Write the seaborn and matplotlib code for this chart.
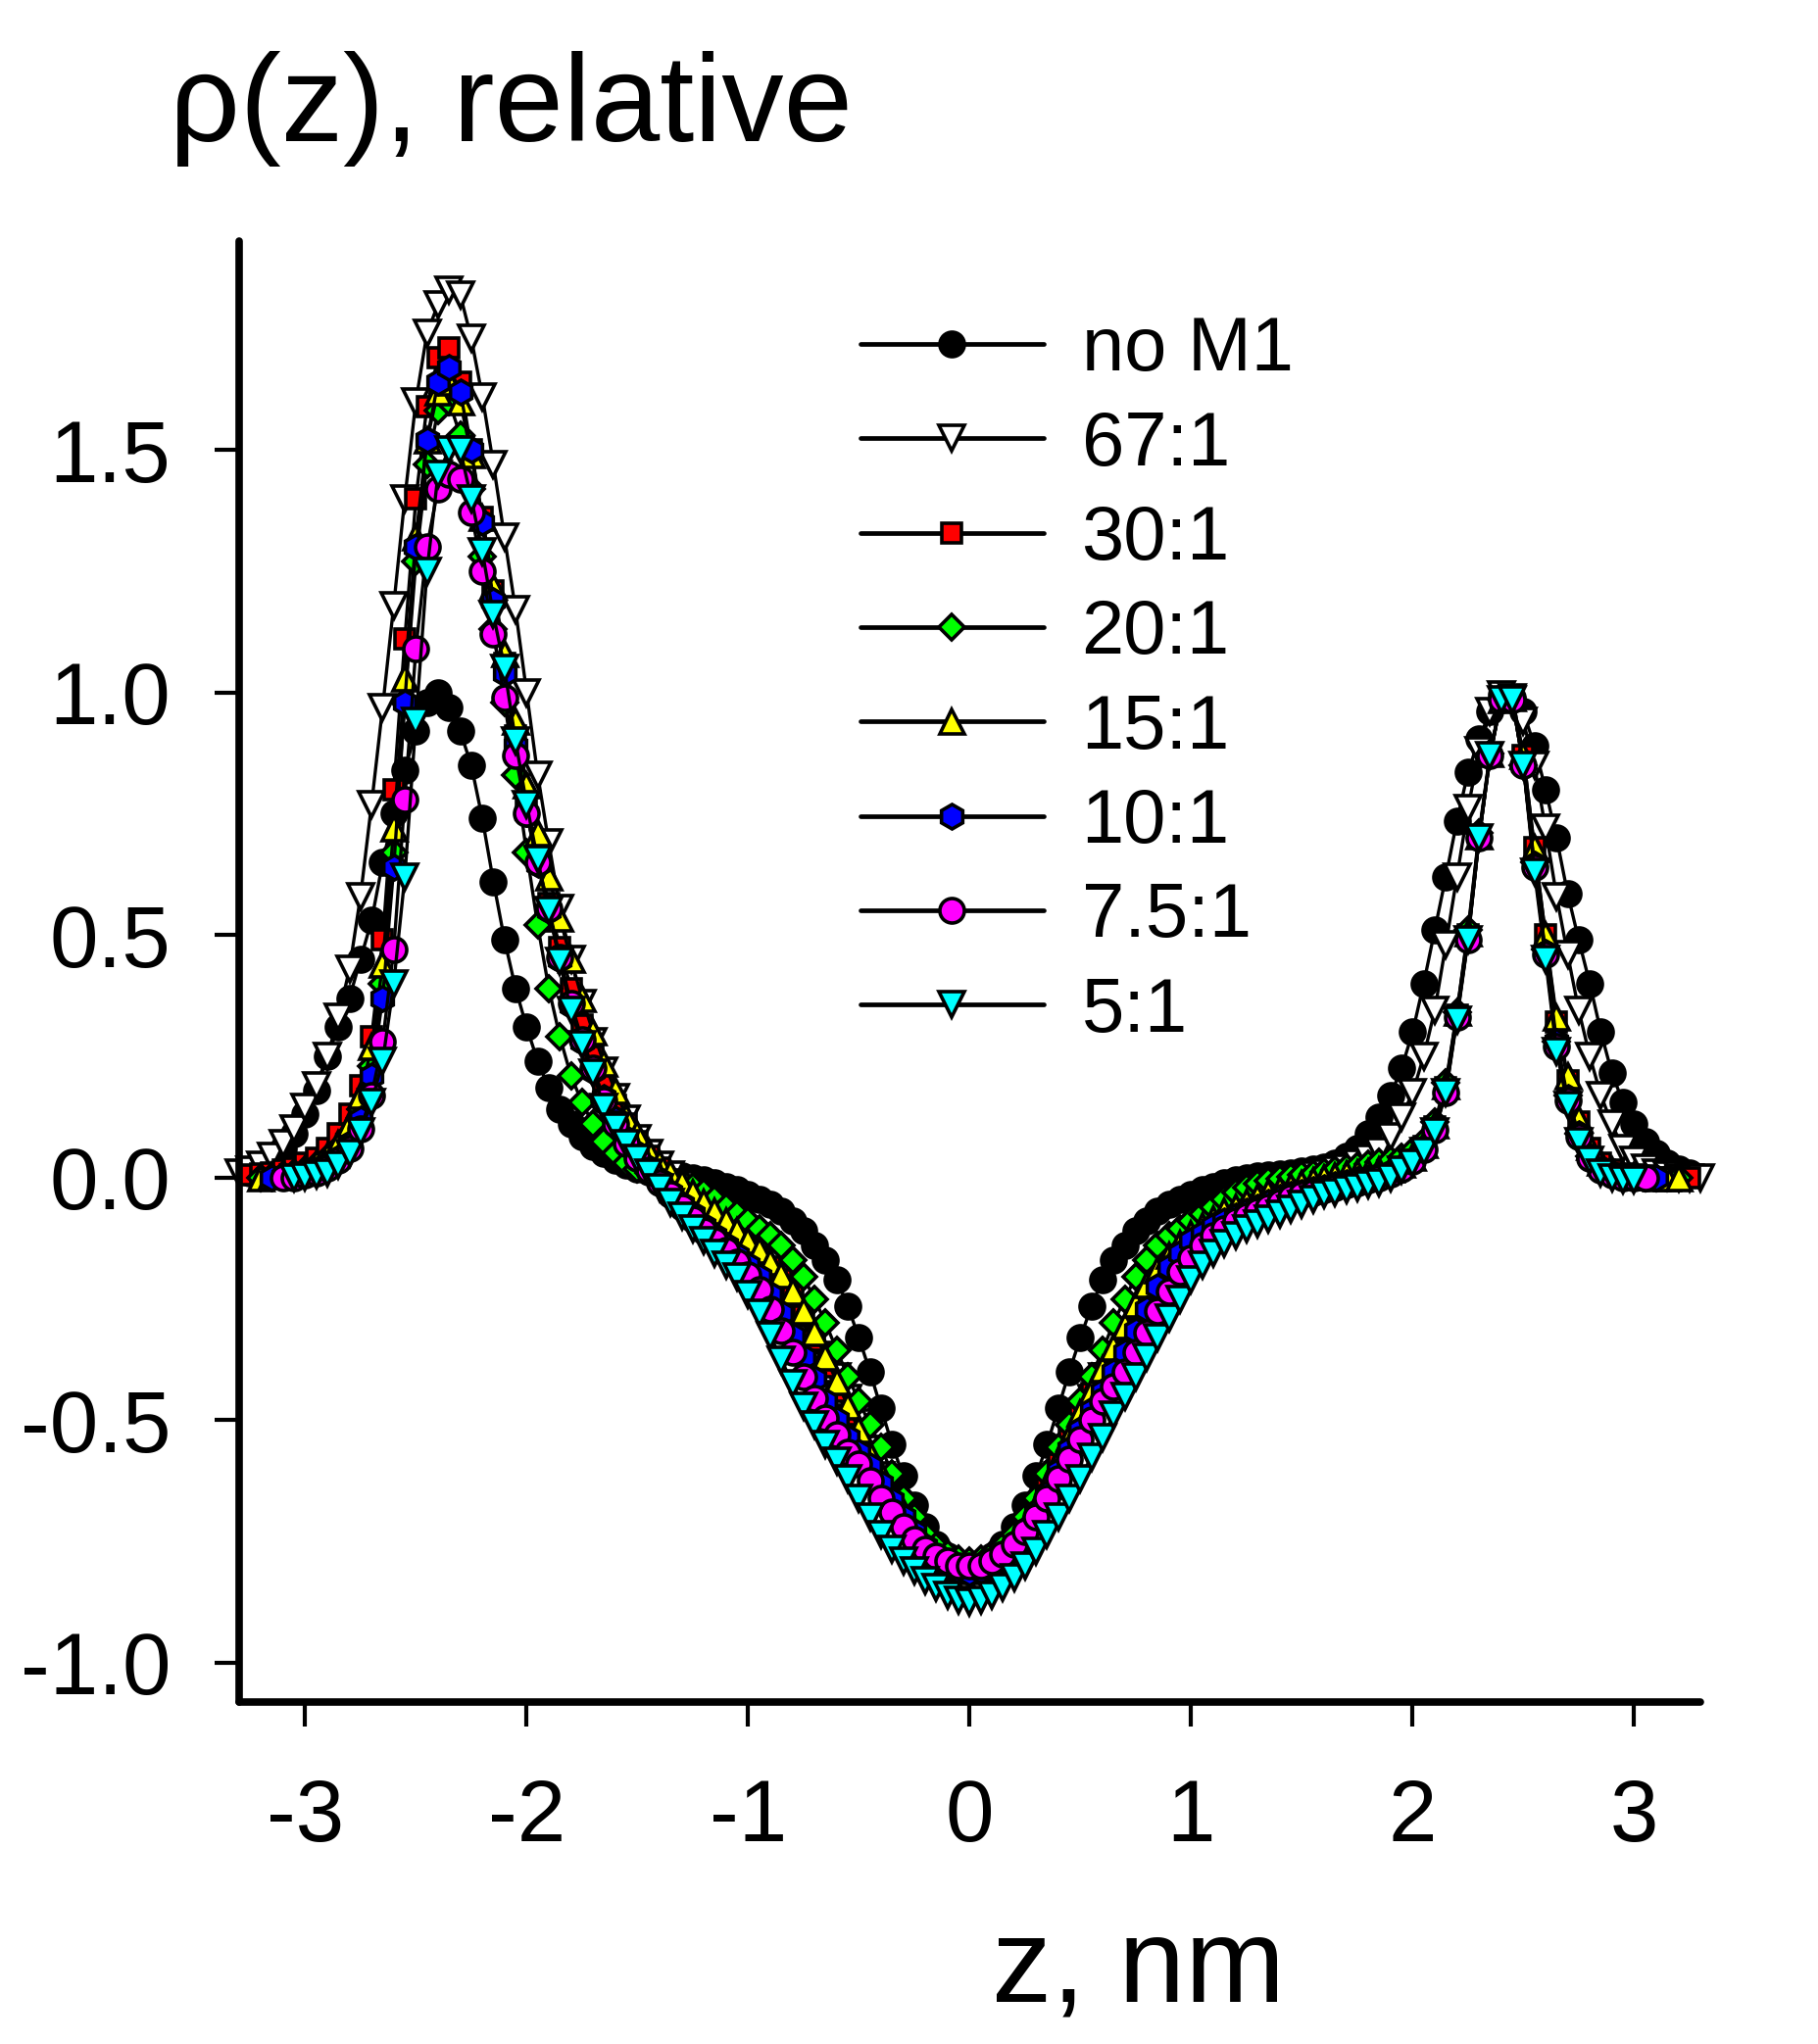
import numpy as np
import pandas as pd
import seaborn as sns
import matplotlib
matplotlib.use("Agg")
import matplotlib.pyplot as plt

# z grid, nm (step 0.05)
Z = np.round(np.linspace(-3.30, 3.30, 133), 2)

# relative density profiles (None = no data at that z)
no_m1 = [
    None, 0.01, 0.02, 0.04, 0.06, 0.09, 0.13, 0.18, 0.25, 0.31,
    0.37, 0.45, 0.53, 0.65, 0.75, 0.84, 0.92, 0.98, 1.00, 0.97,
    0.92, 0.85, 0.74, 0.61, 0.49, 0.39, 0.31, 0.24, 0.185, 0.14,
    0.11, 0.085, 0.065, 0.05, 0.035, 0.025, 0.018, 0.012, 0.008, 0.005,
    0.003, 0.0, -0.005, -0.01, -0.018, -0.025, -0.035, -0.045, -0.055, -0.07,
    -0.09, -0.11, -0.14, -0.17, -0.21, -0.265, -0.33, -0.40, -0.475, -0.55,
    -0.615, -0.675, -0.72, -0.755, -0.78, -0.795, -0.80, -0.795, -0.78, -0.755,
    -0.72, -0.675, -0.615, -0.55, -0.475, -0.40, -0.33, -0.265, -0.21, -0.17,
    -0.14, -0.11, -0.09, -0.07, -0.055, -0.045, -0.035, -0.025, -0.018, -0.01,
    -0.005, 0.0, 0.003, 0.005, 0.008, 0.01, 0.013, 0.017, 0.022, 0.03,
    0.045, 0.06, 0.09, 0.125, 0.17, 0.225, 0.30, 0.40, 0.51, 0.62,
    0.735, 0.835, 0.905, 0.96, 0.995, 0.99, 0.96, 0.89, 0.80, 0.70,
    0.585, 0.49, 0.40, 0.30, 0.215, 0.155, 0.11, 0.075, 0.05, 0.03,
    0.018, 0.01, None]

ratio_67 = [
    0.01, 0.015, 0.025, 0.045, 0.07, 0.10, 0.145, 0.19, 0.25, 0.33,
    0.43, 0.58, 0.77, 0.97, 1.18, 1.40, 1.60, 1.74, 1.80, 1.83,
    1.82, 1.73, 1.61, 1.47, 1.32, 1.17, 1.00, 0.83, 0.69, 0.555,
    0.45, 0.36, 0.28, 0.22, 0.165, 0.12, 0.08, 0.05, 0.025, 0.005,
    -0.015, -0.035, -0.055, -0.07, -0.085, -0.10, -0.12, -0.145, -0.17, -0.20,
    -0.235, -0.275, -0.32, -0.365, -0.41, -0.455, -0.505, -0.56, -0.615, -0.665,
    -0.715, -0.755, -0.79, -0.815, -0.835, -0.845, -0.85, -0.845, -0.835, -0.815,
    -0.79, -0.755, -0.715, -0.665, -0.615, -0.56, -0.505, -0.455, -0.41, -0.365,
    -0.32, -0.275, -0.235, -0.20, -0.17, -0.145, -0.12, -0.10, -0.085, -0.07,
    -0.055, -0.04, -0.03, -0.02, -0.01, -0.005, 0.0, 0.005, 0.01, 0.015,
    0.02, 0.03, 0.04, 0.055, 0.085, 0.125, 0.175, 0.25, 0.345, 0.48,
    0.62, 0.76, 0.88, 0.96, 0.995, 0.99, 0.94, 0.85, 0.72, 0.58,
    0.46, 0.345, 0.25, 0.17, 0.11, 0.06, 0.035, 0.02, 0.01, 0.005,
    0.0, 0.0, 0.0]

ratio_30 = [
    None, 0.005, 0.008, 0.01, 0.015, 0.02, 0.03, 0.04, 0.06, 0.09,
    0.13, 0.19, 0.29, 0.49, 0.80, 1.11, 1.40, 1.59, 1.69, 1.71,
    1.64, 1.50, 1.36, 1.21, 1.06, 0.91, 0.77, 0.66, 0.565, 0.475,
    0.39, 0.315, 0.25, 0.195, 0.15, 0.11, 0.075, 0.045, 0.02, -0.005,
    -0.03, -0.05, -0.07, -0.09, -0.105, -0.125, -0.145, -0.165, -0.185, -0.21,
    -0.245, -0.285, -0.335, -0.39, -0.44, -0.49, -0.535, -0.585, -0.625, -0.665,
    -0.70, -0.735, -0.765, -0.785, -0.80, -0.81, -0.815, -0.81, -0.80, -0.78,
    -0.755, -0.725, -0.685, -0.64, -0.59, -0.54, -0.49, -0.445, -0.405, -0.36,
    -0.315, -0.265, -0.225, -0.195, -0.165, -0.14, -0.12, -0.105, -0.09, -0.075,
    -0.065, -0.055, -0.045, -0.035, -0.03, -0.02, -0.015, -0.01, -0.005, 0.0,
    0.005, 0.008, 0.01, 0.012, 0.015, 0.025, 0.04, 0.065, 0.105, 0.185,
    0.335, 0.50, 0.70, 0.87, 0.985, 0.99, 0.87, 0.68, 0.50, 0.32,
    0.20, 0.115, 0.06, 0.03, 0.015, 0.008, 0.005, 0.003, 0.0, 0.0,
    0.0, 0.0, None]

ratio_20 = [
    None, None, 0.0, 0.002, 0.005, 0.01, 0.015, 0.025, 0.04, 0.06,
    0.09, 0.14, 0.23, 0.40, 0.67, 0.98, 1.27, 1.47, 1.58, 1.60,
    1.53, 1.42, 1.28, 1.13, 0.98, 0.83, 0.67, 0.52, 0.39, 0.29,
    0.21, 0.155, 0.11, 0.075, 0.05, 0.03, 0.018, 0.01, 0.005, 0.0,
    -0.008, -0.018, -0.03, -0.045, -0.06, -0.075, -0.09, -0.105, -0.12, -0.14,
    -0.17, -0.205, -0.25, -0.30, -0.355, -0.41, -0.46, -0.51, -0.555, -0.61,
    -0.66, -0.70, -0.735, -0.76, -0.775, -0.785, -0.79, -0.785, -0.775, -0.76,
    -0.735, -0.70, -0.66, -0.61, -0.555, -0.51, -0.46, -0.41, -0.355, -0.30,
    -0.25, -0.205, -0.17, -0.14, -0.12, -0.105, -0.09, -0.075, -0.06, -0.045,
    -0.03, -0.02, -0.012, -0.006, -0.002, 0.002, 0.005, 0.008, 0.012, 0.016,
    0.02, 0.024, 0.028, 0.032, 0.036, 0.042, 0.055, 0.075, 0.115, 0.195,
    0.34, 0.51, 0.71, 0.875, 0.985, 0.985, 0.85, 0.65, 0.47, 0.28,
    0.17, 0.09, 0.045, 0.02, 0.008, 0.003, 0.0, 0.0, 0.0, 0.0,
    0.0, None, None]

ratio_15 = [
    None, None, 0.0, 0.003, 0.006, 0.01, 0.018, 0.03, 0.045, 0.07,
    0.11, 0.17, 0.27, 0.44, 0.72, 1.03, 1.32, 1.52, 1.62, 1.64,
    1.60, 1.49, 1.36, 1.22, 1.08, 0.94, 0.81, 0.71, 0.62, 0.535,
    0.45, 0.37, 0.30, 0.235, 0.18, 0.125, 0.09, 0.055, 0.03, 0.01,
    -0.01, -0.03, -0.05, -0.07, -0.09, -0.11, -0.13, -0.15, -0.175, -0.20,
    -0.235, -0.275, -0.32, -0.37, -0.42, -0.47, -0.52, -0.57, -0.61, -0.65,
    -0.69, -0.725, -0.755, -0.78, -0.795, -0.805, -0.81, -0.805, -0.795, -0.775,
    -0.75, -0.72, -0.68, -0.635, -0.585, -0.535, -0.485, -0.44, -0.395, -0.35,
    -0.305, -0.26, -0.22, -0.19, -0.16, -0.135, -0.115, -0.10, -0.085, -0.07,
    -0.06, -0.05, -0.04, -0.03, -0.025, -0.018, -0.012, -0.006, 0.0, 0.004,
    0.008, 0.01, 0.012, 0.015, 0.018, 0.027, 0.042, 0.068, 0.108, 0.19,
    0.34, 0.505, 0.705, 0.875, 0.985, 0.99, 0.87, 0.68, 0.50, 0.33,
    0.21, 0.12, 0.065, 0.032, 0.015, 0.008, 0.004, 0.002, 0.0, 0.0,
    0.0, None, None]

ratio_10 = [
    None, None, None, 0.0, 0.002, 0.005, 0.01, 0.015, 0.025, 0.04,
    0.07, 0.12, 0.21, 0.37, 0.64, 0.98, 1.30, 1.52, 1.64, 1.67,
    1.62, 1.50, 1.35, 1.19, 1.04, 0.89, 0.75, 0.645, 0.55, 0.45,
    0.355, 0.28, 0.22, 0.165, 0.12, 0.08, 0.05, 0.02, -0.005, -0.03,
    -0.055, -0.075, -0.10, -0.12, -0.14, -0.16, -0.18, -0.205, -0.24, -0.28,
    -0.325, -0.37, -0.415, -0.46, -0.50, -0.535, -0.565, -0.595, -0.63, -0.665,
    -0.70, -0.73, -0.76, -0.785, -0.80, -0.81, -0.815, -0.81, -0.80, -0.78,
    -0.755, -0.725, -0.69, -0.65, -0.605, -0.56, -0.52, -0.48, -0.44, -0.40,
    -0.36, -0.315, -0.27, -0.225, -0.185, -0.155, -0.13, -0.115, -0.10, -0.09,
    -0.08, -0.07, -0.06, -0.05, -0.04, -0.035, -0.03, -0.025, -0.02, -0.015,
    -0.01, -0.005, 0.0, 0.005, 0.01, 0.02, 0.035, 0.06, 0.10, 0.18,
    0.33, 0.495, 0.70, 0.87, 0.985, 0.985, 0.85, 0.645, 0.465, 0.28,
    0.165, 0.09, 0.045, 0.02, 0.008, 0.003, 0.0, 0.0, 0.0, None,
    None, None, None]

ratio_7_5 = [
    None, None, None, None, 0.0, 0.0, 0.005, 0.01, 0.02, 0.035,
    0.06, 0.10, 0.17, 0.28, 0.47, 0.78, 1.09, 1.30, 1.42, 1.45,
    1.44, 1.37, 1.25, 1.12, 0.99, 0.87, 0.75, 0.65, 0.555, 0.455,
    0.36, 0.285, 0.225, 0.16, 0.11, 0.07, 0.04, 0.015, -0.01, -0.035,
    -0.06, -0.085, -0.11, -0.13, -0.15, -0.175, -0.20, -0.23, -0.27, -0.315,
    -0.36, -0.41, -0.455, -0.495, -0.53, -0.565, -0.59, -0.625, -0.66, -0.69,
    -0.72, -0.745, -0.765, -0.78, -0.79, -0.80, -0.80, -0.80, -0.79, -0.775,
    -0.755, -0.73, -0.70, -0.66, -0.62, -0.58, -0.54, -0.50, -0.46, -0.43,
    -0.40, -0.36, -0.32, -0.275, -0.235, -0.195, -0.165, -0.14, -0.12, -0.105,
    -0.09, -0.08, -0.07, -0.06, -0.05, -0.04, -0.035, -0.03, -0.025, -0.02,
    -0.015, -0.01, -0.005, 0.0, 0.008, 0.018, 0.033, 0.058, 0.098, 0.175,
    0.33, 0.49, 0.70, 0.87, 0.985, 0.985, 0.85, 0.64, 0.46, 0.27,
    0.16, 0.085, 0.04, 0.015, 0.005, 0.0, 0.0, 0.0, None, None,
    None, None, None]

ratio_5 = [
    None, None, None, None, None, 0.0, 0.002, 0.005, 0.01, 0.025,
    0.05, 0.095, 0.155, 0.24, 0.40, 0.62, 0.94, 1.25, 1.45, 1.50,
    1.50, 1.40, 1.29, 1.16, 1.05, 0.90, 0.77, 0.655, 0.55, 0.445,
    0.345, 0.275, 0.215, 0.145, 0.105, 0.07, 0.04, 0.01, -0.02, -0.05,
    -0.08, -0.105, -0.13, -0.155, -0.18, -0.205, -0.24, -0.28, -0.325, -0.375,
    -0.425, -0.47, -0.51, -0.55, -0.585, -0.62, -0.66, -0.70, -0.735, -0.765,
    -0.79, -0.81, -0.83, -0.845, -0.86, -0.87, -0.875, -0.87, -0.86, -0.845,
    -0.825, -0.80, -0.77, -0.735, -0.70, -0.66, -0.62, -0.575, -0.535, -0.49,
    -0.45, -0.41, -0.37, -0.33, -0.29, -0.25, -0.21, -0.18, -0.155, -0.135,
    -0.12, -0.105, -0.095, -0.085, -0.075, -0.065, -0.055, -0.045, -0.035, -0.03,
    -0.025, -0.02, -0.015, -0.01, 0.0, 0.015, 0.03, 0.055, 0.095, 0.175,
    0.325, 0.49, 0.70, 0.87, 0.985, 0.985, 0.85, 0.63, 0.45, 0.26,
    0.15, 0.075, 0.035, 0.01, 0.0, -0.005, -0.005, None, None, None,
    None, None, None]

labels = ["no M1", "67:1", "30:1", "20:1", "15:1", "10:1", "7.5:1", "5:1"]
profiles = [no_m1, ratio_67, ratio_30, ratio_20, ratio_15, ratio_10, ratio_7_5, ratio_5]
markers = ["o", "v", "s", "D", "^", "h", "o", "v"]
fills = ["black", "white", "#ff0000", "#00ff00", "#ffff00", "#0000ff", "#ff00ff", "#00ffff"]
sizes = [18, 19, 15, 13, 18, 18, 18, 19]

y_ticks = [-1.0, -0.5, 0.0, 0.5, 1.0, 1.5]
x_ticks = [-3, -2, -1, 0, 1, 2, 3]

sns.set_theme(style="ticks", rc={"axes.edgecolor": "black", "xtick.color": "black",
                                 "ytick.color": "black", "text.color": "black"})
plt.rcParams["font.family"] = ["Liberation Sans", "DejaVu Sans"]
plt.rcParams["axes.unicode_minus"] = False

fig = plt.figure(figsize=(18.55, 20.86), dpi=100)
ax = fig.add_axes([0.1313, 0.1675, 0.8041, 0.7145])

for lab, vals, mk, fc, ms in zip(labels, profiles, markers, fills, sizes):
    assert len(vals) == len(Z), lab
    df = pd.DataFrame({"z": Z, "rho": vals}).dropna()
    sns.lineplot(data=df, x="z", y="rho", ax=ax, color="black", linewidth=2.4,
                 marker=mk, markersize=ms, markerfacecolor=fc,
                 markeredgecolor="black", markeredgewidth=2.6,
                 label=lab, errorbar=None, sort=False, clip_on=False)

ax.set_xlim(-3.3, 3.3)
ax.set_ylim(-1.08, 1.93)
ax.set_xticks(x_ticks)
ax.set_xticklabels([str(t) for t in x_ticks])
ax.set_yticks(y_ticks)
ax.set_yticklabels([f"{t:.1f}" for t in y_ticks])
ax.set_xlabel("")
ax.set_ylabel("")
sns.despine(ax=ax)
for side in ["left", "bottom"]:
    ax.spines[side].set_linewidth(5.5)
    ax.spines[side].set_capstyle("round")
ax.tick_params(axis="both", direction="out", length=18, width=3.0, labelsize=64)
ax.tick_params(axis="x", pad=38)
ax.tick_params(axis="y", pad=32)

leg = ax.legend(loc="upper left", bbox_to_anchor=(0.4733, 0.846), bbox_transform=fig.transFigure,
                frameon=False, fontsize=56, handlelength=2.4, handletextpad=0.5,
                labelspacing=0.3, borderpad=0, borderaxespad=0, numpoints=1)
for handle in leg.get_lines():
    handle.set_linewidth(3.4)

fig.text(0.093, 0.931, "\u03c1(z), relative", fontsize=91, ha="left", va="baseline")
fig.text(0.626, 0.0206, "z, nm", fontsize=88, ha="center", va="baseline")

fig.savefig("out.png", dpi=100)
